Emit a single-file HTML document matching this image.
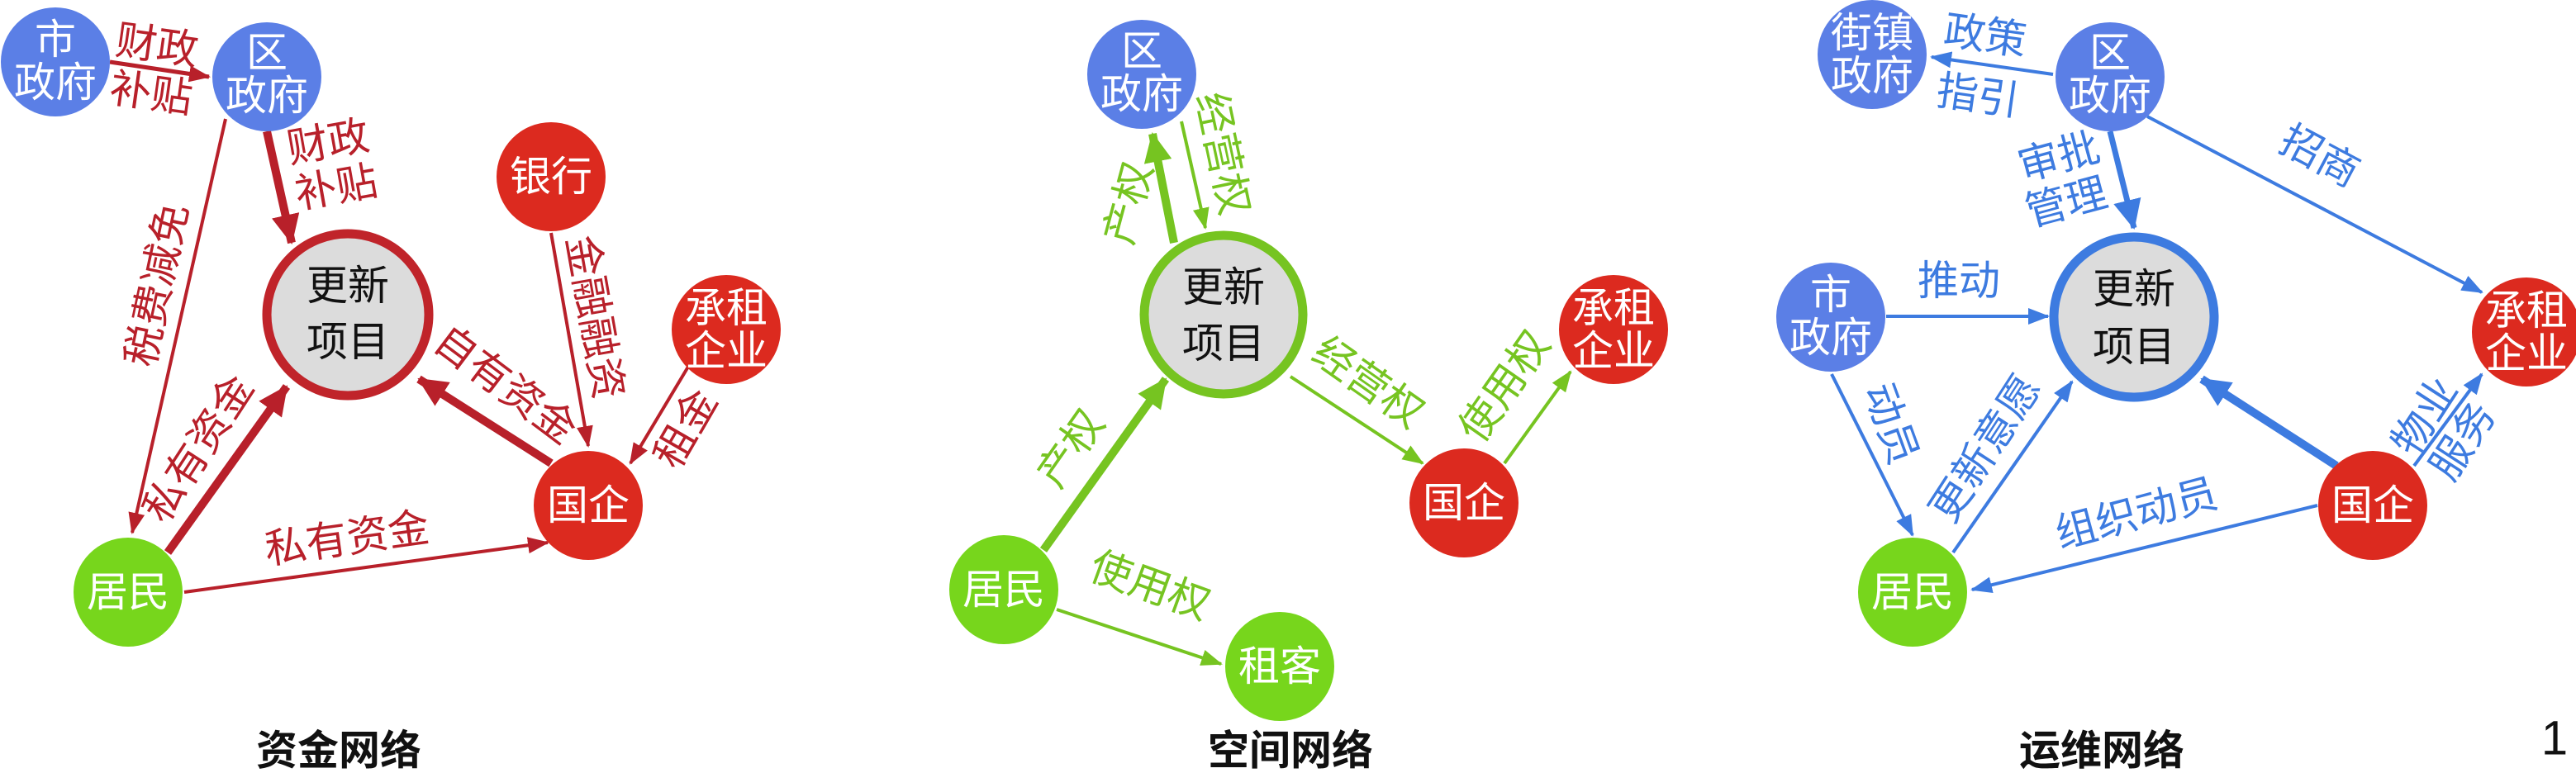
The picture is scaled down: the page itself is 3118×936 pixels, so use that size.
<!DOCTYPE html>
<html><head><meta charset="utf-8"><style>
html,body{margin:0;padding:0;background:#fff;}
svg{display:block;}
text{font-family:"Liberation Sans","Noto Sans CJK SC",sans-serif;text-anchor:middle;dominant-baseline:central;}
.n{fill:#fff;font-size:50px;}
.c{fill:#111;font-size:50px;}
.lr{fill:#b8202a;font-size:50px;}
.lg{fill:#76c421;font-size:50px;}
.lb{fill:#3d7be0;font-size:50px;}
.t{fill:#111;font-size:50px;font-weight:bold;}
</style></head><body>
<svg width="3118" height="936" viewBox="0 0 3118 936" xmlns="http://www.w3.org/2000/svg">
<defs>
<marker id="ar" markerUnits="userSpaceOnUse" markerWidth="26" markerHeight="20" refX="24" refY="10" orient="auto"><path d="M0,0 L26,10 L0,20 Z" fill="#b8202a"/></marker>
<marker id="arT" markerUnits="userSpaceOnUse" markerWidth="36" markerHeight="34" refX="34" refY="17" orient="auto"><path d="M0,0 L36,17 L0,34 Z" fill="#b8202a"/></marker>
<marker id="ag" markerUnits="userSpaceOnUse" markerWidth="26" markerHeight="20" refX="24" refY="10" orient="auto"><path d="M0,0 L26,10 L0,20 Z" fill="#76c421"/></marker>
<marker id="agT" markerUnits="userSpaceOnUse" markerWidth="36" markerHeight="34" refX="34" refY="17" orient="auto"><path d="M0,0 L36,17 L0,34 Z" fill="#76c421"/></marker>
<marker id="ab" markerUnits="userSpaceOnUse" markerWidth="26" markerHeight="20" refX="24" refY="10" orient="auto"><path d="M0,0 L26,10 L0,20 Z" fill="#3d7be0"/></marker>
<marker id="abT" markerUnits="userSpaceOnUse" markerWidth="36" markerHeight="34" refX="34" refY="17" orient="auto"><path d="M0,0 L36,17 L0,34 Z" fill="#3d7be0"/></marker>
</defs>

<!-- ========== Panel 1 ========== -->
<g stroke="#b8202a" fill="none">
<line x1="133" y1="75" x2="253" y2="93" stroke-width="5" marker-end="url(#ar)"/>
<line x1="323" y1="159" x2="353" y2="294" stroke-width="10" marker-end="url(#arT)"/>
<line x1="273" y1="144" x2="160" y2="645" stroke-width="4" marker-end="url(#ar)"/>
<line x1="203" y1="669" x2="347" y2="468" stroke-width="10" marker-end="url(#arT)"/>
<line x1="223" y1="717" x2="663" y2="657" stroke-width="4" marker-end="url(#ar)"/>
<line x1="667" y1="561" x2="507" y2="459" stroke-width="10" marker-end="url(#arT)"/>
<line x1="667" y1="282" x2="712" y2="540" stroke-width="4" marker-end="url(#ar)"/>
<line x1="833" y1="444" x2="763" y2="561" stroke-width="4" marker-end="url(#ar)"/>
</g>
<circle cx="67" cy="75" r="66" fill="#5b7fe6"/>
<circle cx="323" cy="93" r="66" fill="#5b7fe6"/>
<circle cx="421" cy="381" r="98" fill="#dcdcdc" stroke="#c0242a" stroke-width="11"/>
<circle cx="667" cy="214" r="66" fill="#dc2a1f"/>
<circle cx="879" cy="399" r="66" fill="#dc2a1f"/>
<circle cx="712" cy="612" r="66" fill="#dc2a1f"/>
<circle cx="155" cy="717" r="66" fill="#77d61c"/>
<text class="n" x="67" y="48">市</text><text class="n" x="67" y="100">政府</text>
<text class="n" x="323" y="64">区</text><text class="n" x="323" y="116">政府</text>
<text class="c" x="421" y="346">更新</text><text class="c" x="421" y="414">项目</text>
<text class="n" x="667" y="214">银行</text>
<text class="n" x="879" y="373">承租</text><text class="n" x="879" y="425">企业</text>
<text class="n" x="712" y="612">国企</text>
<text class="n" x="155" y="717">居民</text>
<text class="lr" x="190" y="55" transform="rotate(8 190 55)">财政</text>
<text class="lr" x="183" y="113" transform="rotate(8 183 113)">补贴</text>
<text class="lr" x="397" y="172" transform="rotate(-10 397 172)">财政</text>
<text class="lr" x="407" y="227" transform="rotate(-10 407 227)">补贴</text>
<text class="lr" x="190" y="345" transform="rotate(-78 190 345)">税费减免</text>
<text class="lr" x="240" y="543" transform="rotate(-57 240 543)">私有资金</text>
<text class="lr" x="420" y="652" transform="rotate(-8 420 652)">私有资金</text>
<text class="lr" x="612" y="466" transform="rotate(37 612 466)">自有资金</text>
<text class="lr" x="720" y="384" transform="rotate(80 720 384)">金融融资</text>
<text class="lr" x="830" y="519" transform="rotate(-60 830 519)">租金</text>
<text class="t" x="410" y="909">资金网络</text>

<!-- ========== Panel 2 ========== -->
<g stroke="#76c421" fill="none">
<line x1="1421" y1="294" x2="1395" y2="162" stroke-width="10" marker-end="url(#agT)"/>
<line x1="1430" y1="147" x2="1459" y2="276" stroke-width="4" marker-end="url(#ag)"/>
<line x1="1263" y1="666" x2="1411" y2="459" stroke-width="10" marker-end="url(#agT)"/>
<line x1="1562" y1="456" x2="1722" y2="561" stroke-width="4" marker-end="url(#ag)"/>
<line x1="1821" y1="561" x2="1901" y2="450" stroke-width="4" marker-end="url(#ag)"/>
<line x1="1279" y1="738" x2="1478" y2="804" stroke-width="4" marker-end="url(#ag)"/>
</g>
<circle cx="1382" cy="90" r="66" fill="#5b7fe6"/>
<circle cx="1481" cy="381" r="96" fill="#dcdcdc" stroke="#76c421" stroke-width="11"/>
<circle cx="1953" cy="399" r="66" fill="#dc2a1f"/>
<circle cx="1772" cy="609" r="66" fill="#dc2a1f"/>
<circle cx="1215" cy="714" r="66" fill="#77d61c"/>
<circle cx="1549" cy="807" r="66" fill="#77d61c"/>
<text class="n" x="1382" y="62">区</text><text class="n" x="1382" y="114">政府</text>
<text class="c" x="1481" y="348">更新</text><text class="c" x="1481" y="416">项目</text>
<text class="n" x="1953" y="373">承租</text><text class="n" x="1953" y="425">企业</text>
<text class="n" x="1772" y="609">国企</text>
<text class="n" x="1215" y="714">居民</text>
<text class="n" x="1549" y="807">租客</text>
<text class="lg" x="1366" y="246" transform="rotate(-75 1366 246)">产权</text>
<text class="lg" x="1480" y="186" transform="rotate(78 1480 186)">经营权</text>
<text class="lg" x="1296" y="543" transform="rotate(-55 1296 543)">产权</text>
<text class="lg" x="1656" y="463" transform="rotate(35 1656 463)">经营权</text>
<text class="lg" x="1821" y="468" transform="rotate(-55 1821 468)">使用权</text>
<text class="lg" x="1392" y="709" transform="rotate(20 1392 709)">使用权</text>
<text class="t" x="1562" y="909">空间网络</text>

<!-- ========== Panel 3 ========== -->
<g stroke="#3d7be0" fill="none">
<line x1="2485" y1="90" x2="2338" y2="69" stroke-width="4" marker-end="url(#ab)"/>
<line x1="2554" y1="159" x2="2583" y2="276" stroke-width="7" marker-end="url(#abT)"/>
<line x1="2599" y1="141" x2="3004" y2="354" stroke-width="4" marker-end="url(#ab)"/>
<line x1="2283" y1="383" x2="2479" y2="383" stroke-width="4" marker-end="url(#ab)"/>
<line x1="2217" y1="453" x2="2315" y2="648" stroke-width="4" marker-end="url(#ab)"/>
<line x1="2364" y1="669" x2="2508" y2="462" stroke-width="4" marker-end="url(#ab)"/>
<line x1="2828" y1="564" x2="2665" y2="459" stroke-width="10" marker-end="url(#abT)"/>
<line x1="2805" y1="612" x2="2387" y2="714" stroke-width="4" marker-end="url(#ab)"/>
<line x1="2922" y1="564" x2="3004" y2="453" stroke-width="4" marker-end="url(#ab)"/>
</g>
<circle cx="2266" cy="66" r="66" fill="#5b7fe6"/>
<circle cx="2554" cy="93" r="66" fill="#5b7fe6"/>
<circle cx="2216" cy="384" r="66" fill="#5b7fe6"/>
<circle cx="2583" cy="384" r="97" fill="#dcdcdc" stroke="#3d7be0" stroke-width="11"/>
<circle cx="3058" cy="402" r="66" fill="#dc2a1f"/>
<circle cx="2872" cy="612" r="66" fill="#dc2a1f"/>
<circle cx="2315" cy="717" r="66" fill="#77d61c"/>
<text class="n" x="2266" y="40">街镇</text><text class="n" x="2266" y="92">政府</text>
<text class="n" x="2554" y="64">区</text><text class="n" x="2554" y="116">政府</text>
<text class="n" x="2216" y="357">市</text><text class="n" x="2216" y="409">政府</text>
<text class="c" x="2583" y="350">更新</text><text class="c" x="2583" y="420">项目</text>
<text class="n" x="3058" y="376">承租</text><text class="n" x="3058" y="428">企业</text>
<text class="n" x="2872" y="612">国企</text>
<text class="n" x="2315" y="717">居民</text>
<text class="lb" x="2403" y="43" transform="rotate(8 2403 43)">政策</text>
<text class="lb" x="2394" y="116" transform="rotate(8 2394 116)">指引</text>
<text class="lb" x="2492" y="190" transform="rotate(-15 2492 190)">审批</text>
<text class="lb" x="2501" y="245" transform="rotate(-15 2501 245)">管理</text>
<text class="lb" x="2808" y="189" transform="rotate(28 2808 189)">招商</text>
<text class="lb" x="2371" y="340">推动</text>
<text class="lb" x="2289" y="513" transform="rotate(70 2289 513)">动员</text>
<text class="lb" x="2403" y="543" transform="rotate(-57 2403 543)">更新意愿</text>
<text class="lb" x="2586" y="622" transform="rotate(-15 2586 622)">组织动员</text>
<text class="lb" x="2935" y="504" transform="rotate(-57 2935 504)">物业</text>
<text class="lb" x="2981" y="534" transform="rotate(-57 2981 534)">服务</text>
<text class="t" x="2544" y="909">运维网络</text>
<text x="3092" y="894" style="font-size:58px;fill:#111;">1</text>
</svg>
</body></html>
